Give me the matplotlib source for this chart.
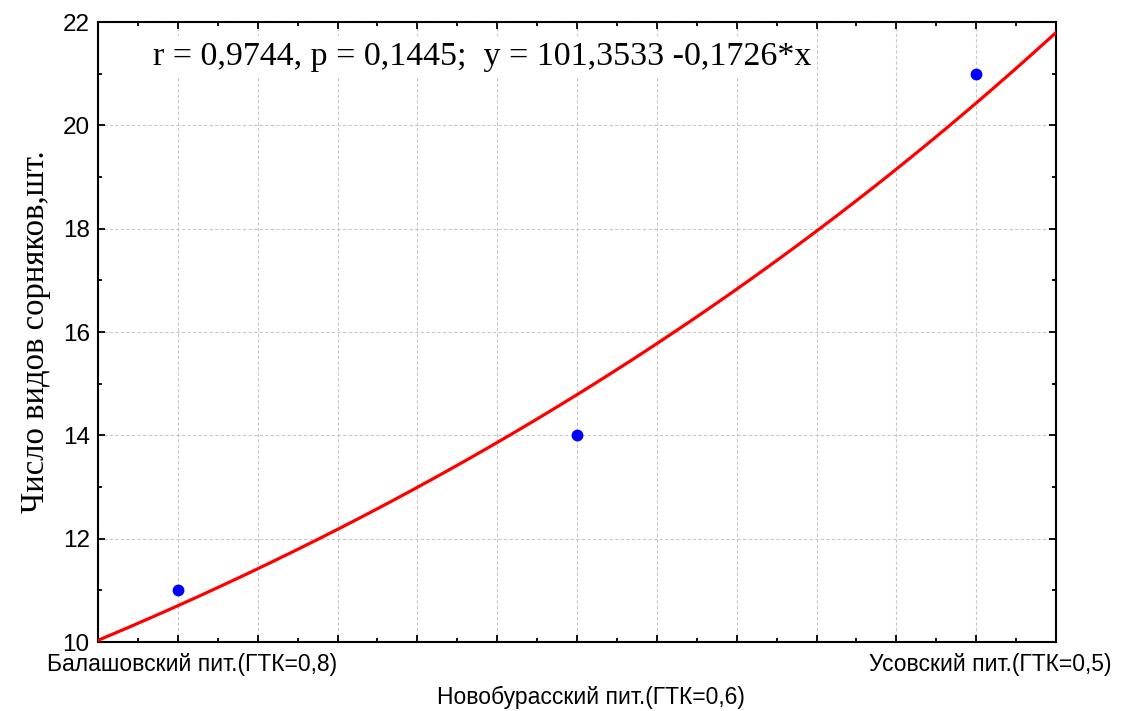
import numpy as np
import matplotlib
matplotlib.use("Agg")
import matplotlib.pyplot as plt
from matplotlib.ticker import MultipleLocator

# sites (ordered along x) and number of weed species found at each
sites = ["Балашовский пит.(ГТК=0,8)", "Новобурасский пит.(ГТК=0,6)", "Усовский пит.(ГТК=0,5)"]
site_x = [1, 2, 3]
species_count = [11, 14, 21]

stats_text = "r = 0,9744, p = 0,1445;  y = 101,3533 -0,1726*x"
y_label = "Число видов сорняков,шт."

# exponential fit (linear regression on log y)
slope, intercept = np.polyfit(site_x, np.log(species_count), 1)
x_fit = np.linspace(0.8, 3.2, 200)
y_fit = np.exp(intercept + slope * x_fit)

plt.rcParams["font.family"] = "Liberation Sans"

fig = plt.figure(figsize=(11.32, 7.11), dpi=100)
ax = fig.add_axes([0.0866, 0.097, 0.8463, 0.872])

ax.plot(x_fit, y_fit, color="#ff0000", lw=2.3, zorder=3)
ax.plot(site_x, species_count, "o", color="#0000ff", ms=7.5, zorder=4)

ax.set_xlim(0.8, 3.2)
ax.set_ylim(10, 22)
ax.xaxis.set_major_locator(MultipleLocator(0.2))
ax.xaxis.set_minor_locator(MultipleLocator(0.1))
ax.yaxis.set_major_locator(MultipleLocator(2))
ax.yaxis.set_minor_locator(MultipleLocator(1))
ax.tick_params(which="both", direction="in", top=True, right=True, width=1.3)
ax.tick_params(which="major", length=5)
ax.tick_params(which="minor", length=3)
ax.tick_params(axis="x", labelbottom=False)
ax.tick_params(axis="y", labelsize=17.5, pad=6)
for s in ax.spines.values():
    s.set_linewidth(1.5)

ax.grid(True, which="major", color="#c8c8c8", ls=(0, (3, 2)), lw=0.8)
ax.set_axisbelow(True)

# staggered site labels under the axis
label_y = [-0.037, -0.089, -0.037]
for xv, name, ly in zip(site_x, sites, label_y):
    ax.text(xv + 0.035, ly, name, transform=ax.get_xaxis_transform(),
            ha="center", va="center", fontsize=16.5)

ax.set_ylabel(y_label, family="Liberation Serif", fontsize=23.5, labelpad=8)

ax.text(0.057, 0.944, stats_text, transform=ax.transAxes, ha="left", va="center",
        family="Liberation Serif", fontsize=24.5,
        bbox=dict(facecolor="white", edgecolor="none", pad=4), zorder=5)

fig.savefig("out.png", dpi=100)
